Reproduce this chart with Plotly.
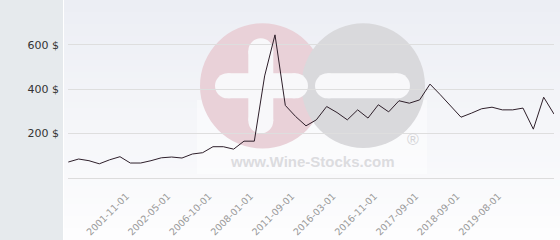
import plotly.graph_objects as go

# ---- data ----
prices = [72, 85.5, 78, 64, 82, 96, 67.5, 67.5, 78, 91, 94.5, 90, 108, 114,
          141, 141, 130, 166, 166, 460, 645, 327, 277, 235, 262, 322, 295,
          262, 307, 270, 330, 298, 348, 337, 352, 423, 375, 325, 274, 292,
          312, 319, 307, 307, 315, 220, 364, 288]
point_index = list(range(len(prices)))
tick_labels = ["2001-11-01", "2002-05-01", "2006-10-01", "2008-01-01",
               "2011-09-01", "2016-03-01", "2016-11-01", "2017-09-01",
               "2018-09-01", "2019-08-01"]
tick_index = [6, 10, 14, 18, 22, 26, 30, 34, 38, 42]
y_ticks = [200, 400, 600]
y_tick_text = [f"{v} $" for v in y_ticks]

# ---- layout geometry ----
W, H = 560, 240
L, R, T, B = 68, 6, 0, 62
pw, ph = W - L - R, H - T - B


def px(x):
    return (x - L) / pw


def py(y):
    return 1 - (y - T) / ph


shapes = []
# left grey panel
shapes.append(dict(type="rect", xref="paper", yref="paper", layer="below",
                   x0=px(0), x1=px(63), y0=py(240), y1=py(0),
                   fillcolor="#e6eaed", line=dict(width=0)))
# vertical gradient plot background
n = 40
top = (236, 238, 244)
bot = (253, 253, 254)
for i in range(n):
    f = i / (n - 1)
    c = tuple(round(top[k] + (bot[k] - top[k]) * f) for k in range(3))
    shapes.append(dict(type="rect", xref="paper", yref="paper", layer="below",
                       x0=px(64), x1=px(560), y0=py((i + 1) * H / n + 0.5),
                       y1=py(i * H / n), fillcolor="rgb(%d,%d,%d)" % c,
                       line=dict(width=0)))
# watermark
shapes.append(dict(type="rect", xref="paper", yref="paper", layer="below",
                   x0=px(197), x1=px(427), y0=py(174), y1=py(100),
                   fillcolor="rgba(255,255,255,0.45)", line=dict(width=0)))
shapes.append(dict(type="circle", xref="paper", yref="paper", layer="below",
                   x0=px(200), x1=px(325), y0=py(148.5), y1=py(23.3),
                   fillcolor="#e9d1d8", line=dict(width=0)))
shapes.append(dict(type="circle", xref="paper", yref="paper", layer="below",
                   x0=px(301.5), x1=px(425), y0=py(148), y1=py(23.3),
                   fillcolor="#d9d9dc", line=dict(width=0)))


def stadium(x0, x1, y0, y1, color):
    r = min(x1 - x0, y1 - y0) / 2
    out = []
    if x1 - x0 >= y1 - y0:
        out.append(dict(type="rect", x0=px(x0 + r), x1=px(x1 - r), y0=py(y1), y1=py(y0)))
        out.append(dict(type="circle", x0=px(x0), x1=px(x0 + 2 * r), y0=py(y1), y1=py(y0)))
        out.append(dict(type="circle", x0=px(x1 - 2 * r), x1=px(x1), y0=py(y1), y1=py(y0)))
    else:
        out.append(dict(type="rect", x0=px(x0), x1=px(x1), y0=py(y1 - r), y1=py(y0 + r)))
        out.append(dict(type="circle", x0=px(x0), x1=px(x1), y0=py(y0 + 2 * r), y1=py(y0)))
        out.append(dict(type="circle", x0=px(x0), x1=px(x1), y0=py(y1), y1=py(y1 - 2 * r)))
    for s in out:
        s.update(xref="paper", yref="paper", layer="below",
                 fillcolor=color, line=dict(width=0))
    return out


wm_white = "#f8f8fa"
shapes += stadium(215, 308, 73.3, 98.3, wm_white)
shapes += stadium(248.3, 273.3, 38.3, 133.3, wm_white)
shapes += stadium(315, 410, 73.3, 98.3, wm_white)

annotations = [
    dict(xref="paper", yref="paper", x=px(312), y=py(161), text="www.Wine-Stocks.com",
         showarrow=False, xanchor="center", yanchor="middle",
         font=dict(family="Liberation Sans", size=15, color="#dcdcdf", weight="bold")),
    dict(xref="paper", yref="paper", x=px(413), y=py(139.5), text="®",
         showarrow=False, xanchor="center", yanchor="middle",
         font=dict(family="Liberation Sans", size=16, color="#d4d4d7")),
]

fig = go.Figure()
fig.add_trace(go.Scatter(x=point_index, y=prices, mode="lines",
                         line=dict(color="#2e1f2a", width=1),
                         hoverinfo="skip", showlegend=False))

fig.update_layout(
    width=W, height=H,
    margin=dict(l=L, r=R, t=T, b=B, pad=0, autoexpand=False),
    paper_bgcolor="#ffffff",
    plot_bgcolor="rgba(0,0,0,0)",
    shapes=shapes,
    annotations=annotations,
    showlegend=False,
    xaxis=dict(range=[-0.03, 47], tickmode="array", tickvals=tick_index,
               ticktext=tick_labels, tickangle=-45, showgrid=False,
               zeroline=False, showline=True, linecolor="#dcdcdc", linewidth=1,
               ticks="", ticklabelstandoff=8, ticklabelshift=-4,
               automargin=False,
               tickfont=dict(family="DejaVu Sans", size=9.5, color="#999999")),
    yaxis=dict(range=[0, 802], tickmode="array", tickvals=y_ticks,
               ticktext=y_tick_text, showgrid=True, gridcolor="#dedede",
               gridwidth=1, zeroline=False, showline=False, ticks="",
               ticklabelstandoff=8, automargin=False,
               tickfont=dict(family="DejaVu Sans", size=11, color="#333333")),
)

fig.write_html("out.html")
